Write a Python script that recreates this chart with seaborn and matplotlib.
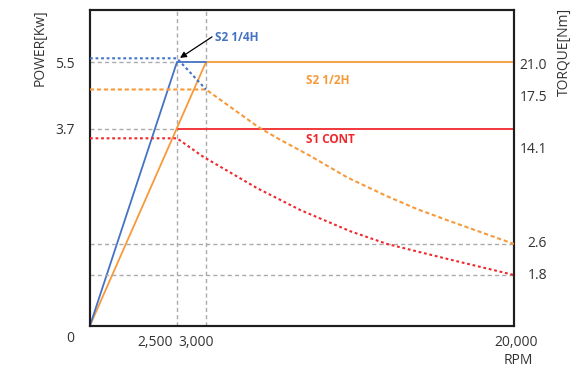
import numpy as np
import pandas as pd
import matplotlib
matplotlib.use("Agg")
import matplotlib.pyplot as plt
import matplotlib.transforms as mtransforms
import seaborn as sns

# ---- speed axis (rpm) ----
rpm_ticks = [2500, 3000, 20000]
rpm_tick_labels = ["2,500", "3,000", "20,000"]

# ---- power axis (kW) ----
power_ticks = [0, 3.7, 5.5]
power_tick_labels = ["0", "3.7", "5.5"]

# ---- torque axis (Nm) ----
torque_ticks = [1.8, 2.6, 14.1, 17.5, 21.0]
torque_tick_labels = ["1.8", "2.6", "14.1", "17.5", "21.0"]

# ---- power curves ----
s2_quarter_rpm = [0, 2500, 3000]
s2_quarter_kw = [0, 5.5, 5.5]
s2_half_rpm = [0, 3000, 20000]
s2_half_kw = [0, 5.5, 5.5]
s1_rpm = [2500, 20000]
s1_kw = [3.7, 3.7]

# ---- torque curves ----
s2_quarter_tq_rpm = [0, 2500, 3000]
s2_quarter_tq_nm = [21.0, 21.0, 17.5]
s2_half_tq_rpm = [0, 3000, 5870, 6950, 8740, 10840, 12990, 14650, 16300, 20000]
s2_half_tq_nm = [17.5, 17.5, 14.9, 14.1, 12.2, 9.8, 7.8, 6.4, 5.2, 2.6]
s1_tq_rpm = [0, 2500, 2950, 5800, 8200, 10950, 13000, 16450, 20000]
s1_tq_nm = [14.1, 14.1, 12.1, 8.7, 6.3, 4.0, 2.6, 2.2, 1.8]

BLUE = "#4472C4"
ORANGE = "#F79A3A"
RED = "#F0282D"
GRID = "#ABABAB"
INK = "#333333"

sns.set_theme(style="white")
plt.rcParams["font.family"] = ["Open Sans", "DejaVu Sans"]
plt.rcParams["lines.scale_dashes"] = False


def piecewise(knots, pos):
    knots = np.asarray(knots, float)
    pos = np.asarray(pos, float)

    def fwd(v):
        return np.interp(v, knots, pos)

    def inv(p):
        return np.interp(p, pos, knots)

    return fwd, inv


# schematic (piecewise-linear) axis layouts: value -> relative length
fx, ix = piecewise([0, 2500, 3000, 20000], [0, 87, 116, 424])
fp, ip = piecewise([0, 3.7, 5.5, 10], [0, 197, 263.5, 429.7])
ft, it = piecewise([0, 1.8, 2.6, 14.1, 17.5, 21.0, 30],
                   [0, 50.5, 81.5, 187.2, 236, 267.2, 347.4])
TOP = 315.5

fig = plt.figure(figsize=(5.82, 3.70), dpi=100)
ax = fig.add_axes([90 / 582, 1 - 325.5 / 370, 424 / 582, 315.5 / 370])
ax.set_xscale("function", functions=(fx, ix))
ax.set_yscale("function", functions=(fp, ip))
ax2 = ax.twinx()
ax2.set_yscale("function", functions=(ft, it))

# reference grid
dash_grid = (0, (3, 2.2))
ax.axvline(2500, color=GRID, lw=1, ls=dash_grid, zorder=1)
ax.axvline(3000, color=GRID, lw=1, ls=dash_grid, zorder=1)
ax.hlines([5.5, 3.7], 0, 2500, color=GRID, lw=1, ls=dash_grid, zorder=1)
ax2.axhline(2.6, color=GRID, lw=1, ls=dash_grid, zorder=1)
ax2.axhline(1.8, color=GRID, lw=1, ls=dash_grid, zorder=1)


def draw(axis, xs, ys, color, ls="-", lw=1.3):
    df = pd.DataFrame({"rpm": xs, "val": ys})
    sns.lineplot(data=df, x="rpm", y="val", ax=axis, color=color, lw=lw,
                 linestyle=ls, estimator=None, sort=False, legend=False,
                 zorder=3)


# torque curves (right axis)
draw(ax2, s1_tq_rpm, s1_tq_nm, RED, ls=(0, (2, 2)), lw=1.5)
draw(ax2, s2_half_tq_rpm, s2_half_tq_nm, ORANGE, ls=(0, (3, 2)), lw=1.5)
draw(ax2, s2_quarter_tq_rpm, s2_quarter_tq_nm, BLUE, ls=(0, (2, 2)), lw=1.5)

# power curves (left axis)
draw(ax, s1_rpm, s1_kw, RED)
draw(ax, s2_half_rpm, s2_half_kw, ORANGE)
draw(ax, s2_quarter_rpm, s2_quarter_kw, BLUE)

ax.set_xlim(0, 20000)
ax.set_ylim(0, float(ip(TOP)))
ax2.set_ylim(0, float(it(TOP)))

# curve labels
ax.text(3500, 6.16, "S2 1/4H", color=BLUE, fontsize=8.5, fontweight="bold",
        ha="left", va="center")
ax.annotate("", xy=(2552, 5.61), xytext=(3330, 6.18),
            arrowprops=dict(arrowstyle="-|>", color="black", lw=0.9,
                            mutation_scale=9, shrinkA=0, shrinkB=0))
ax.text(8500, 5.01, "S2 1/2H", color=ORANGE, fontsize=8.5, fontweight="bold",
        ha="left", va="center")
ax.text(8500, 3.50, "S1 CONT", color=RED, fontsize=8.5, fontweight="bold",
        ha="left", va="center")

# ticks
ax.set_xticks(rpm_ticks, rpm_tick_labels)
ax.set_yticks(power_ticks, power_tick_labels)
ax2.set_yticks(torque_ticks, torque_tick_labels)
ax.xaxis.set_minor_locator(matplotlib.ticker.NullLocator())
ax.yaxis.set_minor_locator(matplotlib.ticker.NullLocator())
ax2.yaxis.set_minor_locator(matplotlib.ticker.NullLocator())
ax.tick_params(axis="both", length=0, labelsize=10, labelcolor=INK)
ax.tick_params(axis="y", pad=10.8)
ax.tick_params(axis="x", pad=6.5)
ax2.tick_params(axis="y", length=0, labelsize=10, labelcolor=INK, pad=23.8)
for lbl in ax2.get_yticklabels():
    lbl.set_ha("right")

# axis titles
ax.set_ylabel("POWER[Kw]", fontsize=10, color=INK)
ax.yaxis.label.set_va("center")
ax.yaxis.set_label_coords(-0.118, 0.881)
ax2.set_ylabel("TORQUE[Nm]", fontsize=10, color=INK, rotation=90)
ax2.yaxis.label.set_va("center")
ax2.yaxis.set_label_coords(1.118, 0.868)
ax.set_xlabel("")
ax.text(1.0094, -0.1094, "RPM", transform=ax.transAxes, fontsize=10,
        color=INK, ha="center", va="center")

# frame
for a in (ax, ax2):
    for sp in a.spines.values():
        sp.set_color("#1E1E1E")
        sp.set_linewidth(1.5)
        sp.set_visible(True)
    a.grid(False)

# fine placement of individual tick labels (pixels)
def shift(label, dx, dy):
    label.set_transform(label.get_transform() + mtransforms.ScaledTranslation(
        dx / 100, -dy / 100, fig.dpi_scale_trans))

for tick, dx in zip(ax.xaxis.get_major_ticks(), [-21.5, -9.7, 2]):
    shift(tick.label1, dx, 0)
shift(ax.yaxis.get_major_ticks()[0].label1, -1, 11)
for tick, dy in zip(ax2.yaxis.get_major_ticks(), [-1.5, -2.3, 8.9, 6.3, 5.4]):
    shift(tick.label2, 0, dy)

fig.savefig("out.png", dpi=100, facecolor="white")
